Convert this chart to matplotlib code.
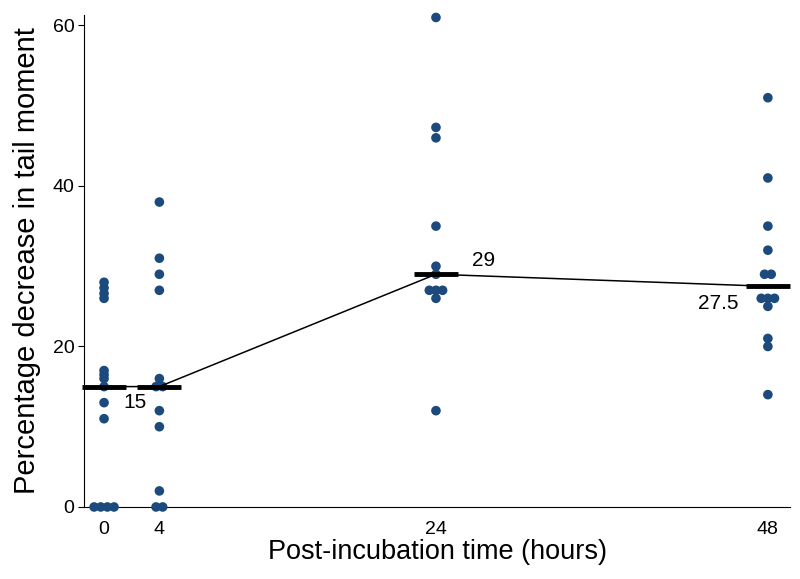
import numpy as np
import matplotlib
matplotlib.use('Agg')
from matplotlib import pyplot as plt

plt.rcParams['font.family'] = ['Liberation Sans', 'DejaVu Sans']

# post-incubation time groups (hours)
hours = [0, 4, 24, 48]
# percentage decrease in tail moment, read per group
h0 = [0, 0, 0, 0, 11, 13, 15, 16, 16.5, 17, 26, 26.6, 27.3, 28]
h4 = [0, 0, 2, 10, 12, 15, 15, 16, 27, 29, 31, 38]
h24 = [12, 26, 27, 27, 27, 29, 30, 35, 46, 47.3, 61]
h48 = [14, 20, 21, 25, 26, 26, 26, 29, 29, 32, 35, 41, 51]
medians = [15, 15, 29, 27.5]
median_labels = ['15', '29', '27.5']

groups = [h0, h4, h24, h48]
dot_color = '#1c4a7c'

def tie_offsets(vals, step=0.48):
    # spread equal values side by side
    vals = np.asarray(vals, dtype=float)
    off = np.zeros(len(vals))
    for v in np.unique(vals):
        idx = np.where(vals == v)[0]
        n = len(idx)
        off[idx] = (np.arange(n) - (n - 1) / 2) * step
    return off

fig = plt.figure(figsize=(8, 5.79), dpi=100)
ax = fig.add_axes([0.105, 0.1244, 0.8825, 0.8496])

for h, vals in zip(hours, groups):
    x = h + tie_offsets(vals)
    ax.scatter(x, vals, s=48, color=dot_color, edgecolors='none', zorder=3, clip_on=False)

# thin line joining medians
ax.plot(hours, medians, color='black', lw=1.1, zorder=4)
# thick median bars
ax.hlines(medians, np.array(hours) - 1.6, np.array(hours) + 1.6, color='black', lw=3.5,
          zorder=5, clip_on=False)

ax.annotate(median_labels[0], (hours[0], medians[0]), xytext=(19, -16), textcoords='offset pixels',
            ha='left', va='center', fontsize=15)
ax.annotate(median_labels[1], (hours[2], medians[2]), xytext=(36, 14), textcoords='offset pixels',
            ha='left', va='center', fontsize=15)
ax.annotate(median_labels[2], (hours[3], medians[3]), xytext=(-29, -17), textcoords='offset pixels',
            ha='right', va='center', fontsize=15)

ax.set_xlim(-1.45, 49.6)
ax.set_ylim(0, 61.3)
ax.set_xticks(hours)
ax.set_yticks([0, 20, 40, 60])
ax.tick_params(axis='x', length=0, pad=10, labelsize=14)
ax.tick_params(axis='y', length=4, width=0.8, pad=3, labelsize=14)

for s in ['top', 'right']:
    ax.spines[s].set_visible(False)
for s in ['left', 'bottom']:
    ax.spines[s].set_linewidth(0.8)

ax.set_xlabel('Post-incubation time (hours)', fontsize=19.5, labelpad=1)
ax.set_ylabel('Percentage decrease in tail moment', fontsize=21, labelpad=8)

plt.savefig('out.png', dpi=100)
